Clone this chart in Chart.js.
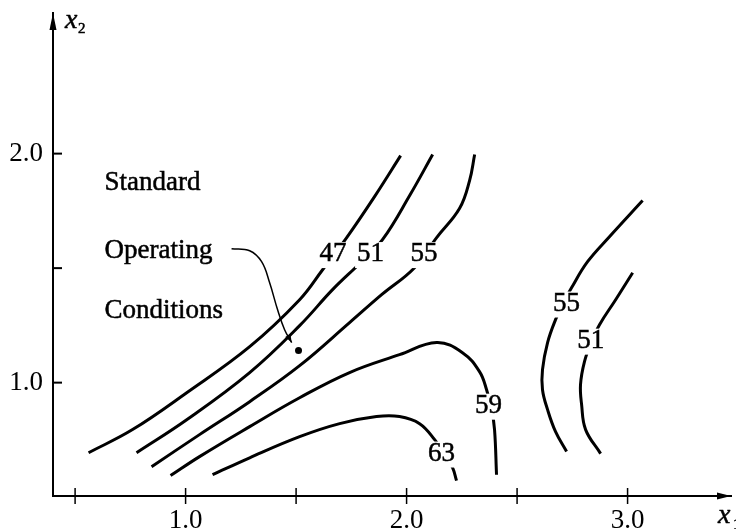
<!DOCTYPE html>
<html lang="en">
<head>
<meta charset="UTF-8">
<title>Response Contours</title>
<script src="https://cdn.jsdelivr.net/npm/chart.js"></script>
<style>
  body { margin: 0; background: #fff; }
  #wrap { width: 736px; height: 529px; }
</style>
</head>
<body>
<div id="wrap"><canvas id="contourChart" width="736" height="529"></canvas></div>
<script>
// contour lines as [x1, x2] pairs
const contour47 = [[0.561,0.694],[0.760,0.795],[1.005,0.956],[1.290,1.157],[1.516,1.362],[1.620,1.493],[1.729,1.633],[1.855,1.812],[1.973,1.991]];
const contour51 = [[0.778,0.694],[1.005,0.838],[1.290,1.044],[1.516,1.249],[1.665,1.406],[1.796,1.528],[1.891,1.624],[2.014,1.817],[2.118,1.996]];
const contour55 = [[0.846,0.633],[1.063,0.773],[1.290,0.917],[1.516,1.074],[1.742,1.262],[1.887,1.384],[2.036,1.502],[2.136,1.633],[2.240,1.761],[2.285,1.882],[2.308,1.996]];
const contour59 = [[0.932,0.594],[1.063,0.677],[1.290,0.808],[1.516,0.934],[1.742,1.044],[1.968,1.122],[2.136,1.175],[2.253,1.131],[2.330,1.048],[2.362,0.969],[2.385,0.882],[2.398,0.795],[2.407,0.598]];
const contour63 = [[1.122,0.598],[1.290,0.672],[1.516,0.764],[1.697,0.821],[1.864,0.852],[1.968,0.852],[2.059,0.821],[2.127,0.751],[2.172,0.686],[2.208,0.629],[2.226,0.572]];
const contour55r = [[3.068,1.795],[2.919,1.638],[2.819,1.528],[2.747,1.415],[2.706,1.341],[2.674,1.275],[2.638,1.175],[2.615,1.057],[2.615,0.969],[2.638,0.882],[2.674,0.786],[2.724,0.699]];
const contour51r = [[3.023,1.480],[2.946,1.362],[2.873,1.253],[2.837,1.179],[2.805,1.092],[2.787,0.991],[2.792,0.904],[2.810,0.795],[2.878,0.690]];

const contourLines = [contour47, contour51, contour55, contour59, contour63, contour55r, contour51r];
const contourLevels = ['47', '51', '55', '59', '63', '55', '51'];
const levelLabelAt = [[1.667,1.557],[1.837,1.557],[2.079,1.557],[2.371,0.895],[2.158,0.686],[2.724,1.341],[2.833,1.179]];

const operatingPoint = [1.511, 1.140];
const pointerPath = [[1.208,1.585],[1.290,1.576],[1.344,1.528],[1.380,1.437],[1.416,1.319],[1.448,1.231],[1.480,1.175]];
const noteLines = ['Standard', 'Operating', 'Conditions'];
const noteAt = [[0.633,1.843],[0.633,1.546],[0.633,1.284]];

const xTickMarks = [0.5, 1.0, 1.5, 2.0, 2.5, 3.0];
const xLabelValues = [1, 2, 3];
const xTickLabels = ['1.0', '2.0', '3.0'];
const yTickMarks = [1.0, 1.5, 2.0];
const yLabelValues = [1, 2];
const yTickLabels = ['1.0', '2.0'];

const SERIF = '"Liberation Serif", "Times New Roman", serif';

const datasets = contourLines.map(pts => ({
  data: pts.map(p => ({ x: p[0], y: p[1] })),
  borderColor: '#000',
  borderWidth: 3,
  pointRadius: 0,
  tension: 0.4,
  fill: false
}));
datasets.push({
  data: pointerPath.map(p => ({ x: p[0], y: p[1] })),
  borderColor: '#000',
  borderWidth: 1.5,
  pointRadius: 0,
  tension: 0.4,
  fill: false
});
datasets.push({
  data: [{ x: operatingPoint[0], y: operatingPoint[1] }],
  showLine: false,
  pointRadius: 3.5,
  pointBackgroundColor: '#000',
  pointBorderWidth: 0
});

// draw text a touch heavier, like the printed figure
function inkText(ctx, t, x, y) {
  ctx.fillText(t, x, y);
  ctx.strokeText(t, x, y);
}

const decor = {
  id: 'decor',
  afterDatasetsDraw(chart) {
    const ctx = chart.ctx;
    const xs = chart.scales.x, ys = chart.scales.y;
    const area = chart.chartArea;
    const x0 = area.left, y0 = area.bottom;
    ctx.save();
    ctx.fillStyle = '#000';
    ctx.strokeStyle = '#000';
    ctx.lineWidth = 0.5;

    // level labels with a white gap in the line
    ctx.font = '27px ' + SERIF;
    ctx.textAlign = 'center';
    ctx.textBaseline = 'middle';
    levelLabelAt.forEach((p, i) => {
      const px = xs.getPixelForValue(p[0]);
      const py = ys.getPixelForValue(p[1]);
      const w = ctx.measureText(contourLevels[i]).width;
      ctx.fillStyle = '#fff';
      ctx.fillRect(px - w / 2 - 2, py - 13, w + 4, 26);
      ctx.fillStyle = '#000';
      inkText(ctx, contourLevels[i], px, py - 1);
    });

    // arrowhead on the pointer
    const n = pointerPath.length;
    const tx = xs.getPixelForValue(pointerPath[n - 1][0]), ty = ys.getPixelForValue(pointerPath[n - 1][1]);
    const bx = xs.getPixelForValue(pointerPath[n - 2][0]), by = ys.getPixelForValue(pointerPath[n - 2][1]);
    const a = Math.atan2(ty - by, tx - bx);
    ctx.beginPath();
    ctx.moveTo(tx, ty);
    ctx.lineTo(tx - 8 * Math.cos(a) + 3 * Math.sin(a), ty - 8 * Math.sin(a) - 3 * Math.cos(a));
    ctx.lineTo(tx - 8 * Math.cos(a) - 3 * Math.sin(a), ty - 8 * Math.sin(a) + 3 * Math.cos(a));
    ctx.closePath();
    ctx.fill();

    // note text
    ctx.font = '27px ' + SERIF;
    ctx.textAlign = 'left';
    ctx.textBaseline = 'alphabetic';
    noteLines.forEach((t, i) => {
      inkText(ctx, t, xs.getPixelForValue(noteAt[i][0]), ys.getPixelForValue(noteAt[i][1]));
    });

    // tick marks
    ctx.lineWidth = 2;
    yTickMarks.forEach(v => {
      const py = ys.getPixelForValue(v);
      ctx.beginPath(); ctx.moveTo(x0, py); ctx.lineTo(x0 + 9, py); ctx.stroke();
    });
    ctx.lineWidth = 1.5;
    xTickMarks.forEach(v => {
      const px = xs.getPixelForValue(v);
      ctx.beginPath(); ctx.moveTo(px, y0 - 8); ctx.lineTo(px, y0 + 8); ctx.stroke();
    });

    // axis arrowheads
    ctx.beginPath();
    ctx.moveTo(x0, area.top); ctx.lineTo(x0 - 3.5, area.top + 17); ctx.lineTo(x0 + 3.5, area.top + 17);
    ctx.closePath(); ctx.fill();
    ctx.beginPath();
    ctx.moveTo(area.right, y0); ctx.lineTo(area.right - 14, y0 - 3.5); ctx.lineTo(area.right - 14, y0 + 3.5);
    ctx.closePath(); ctx.fill();

    // axis names
    ctx.lineWidth = 0.5;
    ctx.font = 'italic 28px ' + SERIF;
    inkText(ctx, 'x', x0 + 12, area.top + 15);
    inkText(ctx, 'x', area.right - 13, y0 + 27);
    ctx.font = '15px ' + SERIF;
    inkText(ctx, '2', x0 + 25, area.top + 20);
    inkText(ctx, '1', area.right + 2, y0 + 33);
    ctx.restore();
  }
};

new Chart(document.getElementById('contourChart'), {
  type: 'line',
  data: { datasets: datasets },
  options: {
    responsive: false,
    animation: false,
    layout: { padding: { top: 13, right: 5, left: 0, bottom: 1 } },
    plugins: { legend: { display: false }, tooltip: { enabled: false } },
    scales: {
      x: {
        type: 'linear',
        min: 0.4,
        max: 3.468,
        afterFit: s => { s.height = 32; s.paddingLeft = 0; s.paddingRight = 0; },
        afterBuildTicks: s => { s.ticks = xLabelValues.map(v => ({ value: v })); },
        grid: { drawOnChartArea: false, drawTicks: false },
        border: { display: true, color: '#000', width: 2 },
        ticks: {
          color: '#000',
          padding: 9,
          maxRotation: 0,
          font: { family: SERIF, size: 27 },
          callback: v => xTickLabels[xLabelValues.indexOf(v)]
        }
      },
      y: {
        type: 'linear',
        min: 0.505,
        max: 2.614,
        afterFit: s => { s.width = 53; s.paddingTop = 0; s.paddingBottom = 0; },
        afterBuildTicks: s => { s.ticks = yLabelValues.map(v => ({ value: v })); },
        grid: { drawOnChartArea: false, drawTicks: false },
        border: { display: true, color: '#000', width: 2 },
        ticks: {
          color: '#000',
          padding: 10,
          font: { family: SERIF, size: 27 },
          callback: v => yTickLabels[yLabelValues.indexOf(v)]
        }
      }
    }
  },
  plugins: [decor]
});
</script>
</body>
</html>
